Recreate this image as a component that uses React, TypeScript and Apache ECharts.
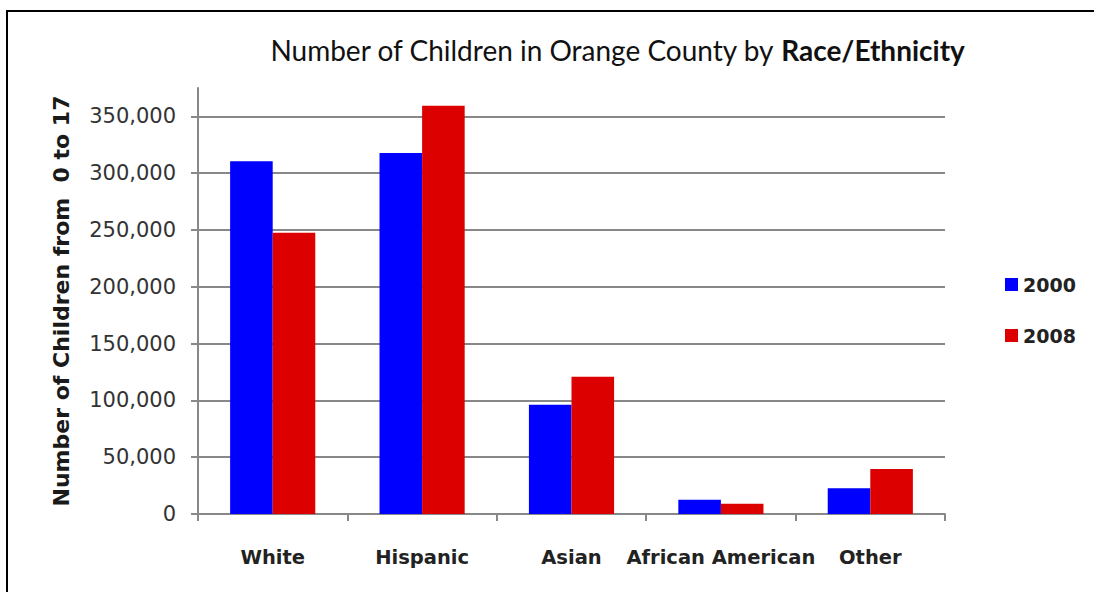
import React, { useEffect, useRef } from "react";
import * as echarts from "echarts";

const categories = ["White", "Hispanic", "Asian", "African American", "Other"];
const seriesNames = ["2000", "2008"];
const values2000 = [310500, 317800, 96200, 12500, 22700];
const values2008 = [247500, 359400, 120800, 9000, 39700];
const yTicks = [0, 50000, 100000, 150000, 200000, 250000, 300000, 350000];

const fmt = (v: number) => v.toLocaleString("en-US");

export default function App() {
  const ref = useRef<HTMLDivElement>(null);
  useEffect(() => {
    if (!ref.current) return;
    const chart = echarts.init(ref.current, null, { renderer: "svg" });
    chart.setOption({
      animation: false,
      backgroundColor: "#ffffff",
      title: {
        text: "Number of Children in Orange County by {b|Race/Ethnicity}",
        left: 612,
        textAlign: "center",
        top: 31,
        textStyle: {
          fontFamily: "Lato",
          fontSize: 28,
          fontWeight: "normal",
          color: "#111",
          rich: {
            b: { fontFamily: "Lato", fontSize: 28, fontWeight: "bold", color: "#111" },
          },
        },
      },
      legend: {
        orient: "vertical",
        left: 1000,
        top: 270,
        itemWidth: 13,
        itemHeight: 13,
        itemGap: 32,
        icon: "rect",
        textStyle: { fontFamily: "DejaVu Sans", fontSize: 19, fontWeight: "bold", color: "#222" },
        data: seriesNames,
      },
      grid: { left: 198, right: 149, top: 88, bottom: 78 },
      xAxis: {
        type: "category",
        data: categories,
        axisLine: { lineStyle: { color: "#888", width: 2 } },
        axisTick: { show: true, interval: 0, length: 7, lineStyle: { color: "#888", width: 2 } },
        axisLabel: {
          interval: 0,
          margin: 33,
          fontFamily: "DejaVu Sans",
          fontSize: 19.5,
          fontWeight: "bold",
          color: "#222",
        },
      },
      yAxis: {
        type: "value",
        min: 0,
        max: 375000,
        interval: 50000,
        name: "Number of Children from  0 to 17",
        nameLocation: "middle",
        nameRotate: 90,
        nameGap: 126,
        nameTextStyle: { fontFamily: "DejaVu Sans", fontSize: 22, fontWeight: "bold", color: "#1a1a1a" },
        axisLine: { show: true, lineStyle: { color: "#888", width: 2 } },
        axisTick: { show: true, length: 7, customValues: yTicks, lineStyle: { color: "#888", width: 2 } },
        axisLabel: {
          margin: 22,
          customValues: yTicks,
          fontFamily: "DejaVu Sans",
          fontSize: 21,
          color: "#333",
          formatter: (v: number) => fmt(v),
        },
        splitLine: { show: true, lineStyle: { color: "#888", width: 2 } },
      },
      series: [
        {
          name: seriesNames[0],
          type: "bar",
          data: values2000,
          barGap: "0%",
          barCategoryGap: "43%",
          itemStyle: { color: "#0000ff" },
        },
        {
          name: seriesNames[1],
          type: "bar",
          data: values2008,
          itemStyle: { color: "#dd0000" },
        },
      ],
      graphic: [
        {
          type: "rect",
          shape: { x: 7, y: 11, width: 1300, height: 800 },
          style: { fill: "none", stroke: "#000", lineWidth: 2 },
          silent: true,
        },
      ],
    });
    return () => chart.dispose();
  }, []);
  return <div ref={ref} style={{ position: "absolute", left: 0, top: 0, width: 1094, height: 592 }} />;
}
